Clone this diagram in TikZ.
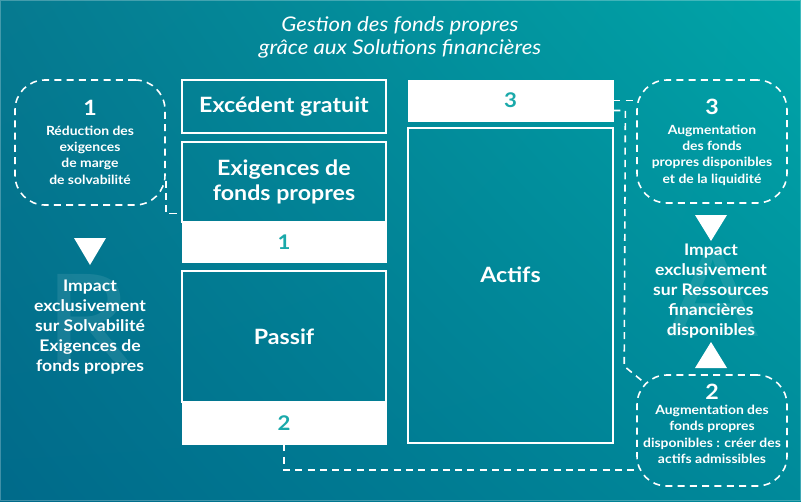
\documentclass[tikz,border=0pt]{standalone}
\usepackage{fontspec}
\setmainfont{Lato}[FakeStretch=1.1]
\usetikzlibrary{calc,shadings}
\usepackage{xcolor}

\definecolor{bgdark}{HTML}{006A8A}
\definecolor{bglight}{HTML}{00A5A8}
\definecolor{bgmidA}{HTML}{067A90}
\definecolor{bgmidB}{HTML}{008A9A}
\definecolor{numteal}{HTML}{1AA9AA}

\newcommand{\numfont}{\bfseries\fontsize{12}{14}\selectfont}

\tikzset{
    block/.style={draw=white, line width=0.8pt, minimum width=204*0.02cm, text=white,
        font=\bfseries\fontsize{12}{14.2}\selectfont, align=center, inner sep=0pt},
    whitebar/.style={fill=white, draw=white, minimum width=204*0.02cm, text=numteal,
        font=\bfseries\fontsize{11.5}{14}\selectfont, inner sep=0pt},
    bubble/.style={draw=white, line width=0.9pt, dash pattern=on 4pt off 3pt,
        rounded corners=17pt, minimum width=150*0.02cm, inner sep=0pt},
    bubbletext/.style={text=white, align=center, inner sep=0pt,
        font=\bfseries\fontsize{7.2}{9.3}\selectfont},
    link/.style={draw=white, line width=0.9pt, dash pattern=on 4pt off 3pt},
    impact/.style={text=white, align=center, font=\bfseries\fontsize{9.1}{11.4}\selectfont},
    ghost/.style={text=white, opacity=0.09, inner sep=0pt, font=\fontsize{70}{70}\selectfont},
}

\begin{document}
\begin{tikzpicture}[x=0.02cm, y=-0.02cm]
    % background
    \useasboundingbox (0,0) rectangle (801,501);
    \shade[upper left=bgmidA, upper right=bglight, lower left=bgdark, lower right=bgmidB]
        (0,0) rectangle (801,501);
    \draw[white, opacity=0.25, line width=0.6pt] (0.5,0.5) rectangle (800.5,500.5);

    % faint letters
    \node[ghost] (ghostR) at (88,318) {R};
    \node[ghost] (ghostA) at (713,292) {A};

    % title
    \node[text=white, align=center, font=\itshape\fontsize{11.5}{13}\selectfont] (title) at (400,37)
        {Gestion des fonds propres\\grâce aux Solutions financières};

    % left column
    \node[block, minimum height=53*0.02cm] (exc) at (284,106.5) {Excédent gratuit};
    \node[block, minimum height=80*0.02cm] (exig) at (284,182) {Exigences de\\fonds propres};
    \node[whitebar, minimum height=40*0.02cm] (bar1) at (284,242) {1};
    \node[block, minimum height=131*0.02cm] (passif) at (284,336.5) {Passif};
    \node[whitebar, minimum height=42*0.02cm] (bar2) at (284,423) {2};

    % right column
    \node[whitebar, minimum height=41*0.02cm, minimum width=205*0.02cm] (bar3) at (510.5,100.5) {3};
    \node[block, minimum height=315*0.02cm, minimum width=205*0.02cm] (actifs) at (510.5,285.5) {};
    \node[text=white, font=\bfseries\fontsize{12}{14}\selectfont] (actlbl) at (510.5,275) {Actifs};

    % bubbles
    \node[bubble, minimum height=125*0.02cm] (r1) at (90,142.5) {};
    \node[bubbletext] (r1txt) at (90,142)
        {{\numfont 1}\\[2pt]Réduction des\\exigences\\de marge\\de solvabilité};
    \node[bubble, minimum height=123*0.02cm] (r3) at (712,141.5) {};
    \node[bubbletext] (r3txt) at (712,142)
        {{\numfont 3}\\[2pt]Augmentation\\des fonds\\propres disponibles\\et de la liquidité};
    \node[bubble, minimum height=111*0.02cm] (r2) at (712,430.5) {};
    \node[bubbletext] (r2txt) at (712,424)
        {{\numfont 2}\\[-1pt]Augmentation des\\fonds propres\\disponibles : créer des\\actifs admissibles};

    % impact texts
    \node[impact] (imp1) at (90,327)
        {Impact\\exclusivement\\sur Solvabilité\\Exigences de\\fonds propres};
    \node[impact] (imp2) at (711,291)
        {Impact\\exclusivement\\sur Ressources\\financières\\disponibles};

    % triangles
    \fill[white] (74,238) -- (106,238) -- (90,265) -- cycle;
    \fill[white] (695,215) -- (727,215) -- (711,241) -- cycle;
    \fill[white] (695,368) -- (727,368) -- (711,342) -- cycle;

    % connectors
    \draw[link] ($(r1.east)+(0,38)$) |- ($(exig.south west)+(0,-9)$);
    \draw[link] (bar3.east) -- (bar3.east -| r3.west);
    \draw[link] ($(bar3.east)+(0,10)$) -- ++(12,0) -- ($(r2.north west)+(-12,-8)$)
        -- ($(r2.north west)+(10,10)$);
    \draw[link] (bar2.south) |- ($(r2.west)+(0,39.5)$);
\end{tikzpicture}
\end{document}
